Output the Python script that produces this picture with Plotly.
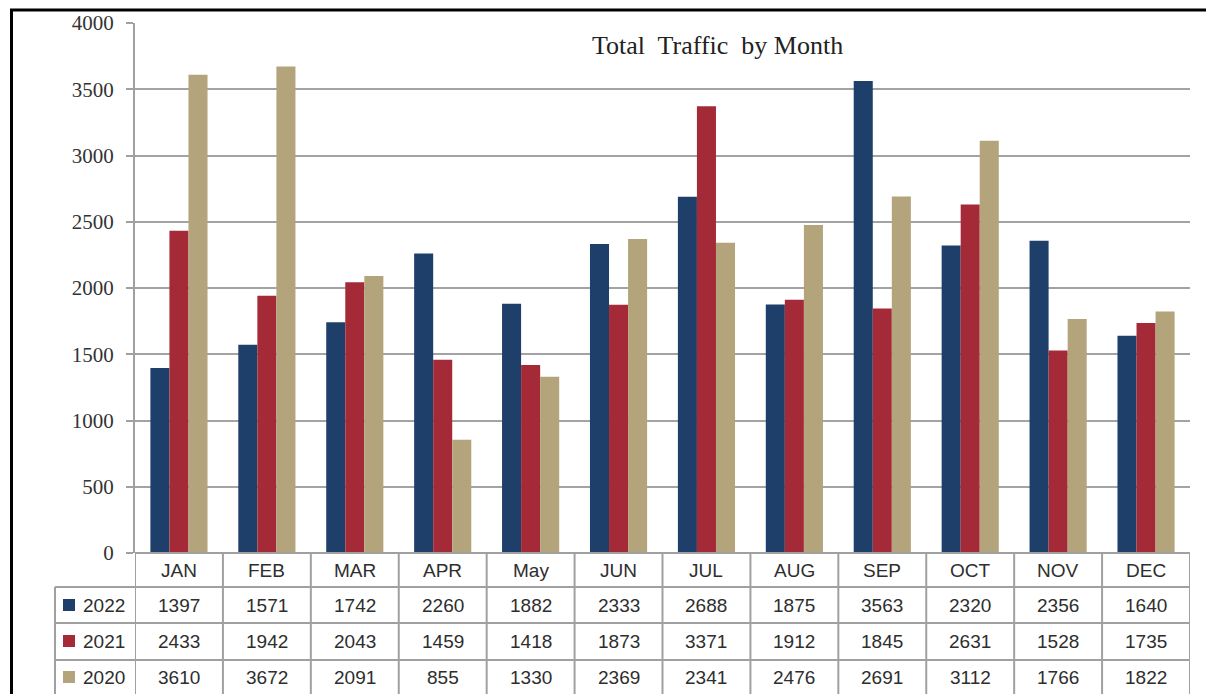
import plotly.graph_objects as go

months = ["JAN", "FEB", "MAR", "APR", "May", "JUN", "JUL", "AUG", "SEP", "OCT", "NOV", "DEC"]
years = ["2022", "2021", "2020"]
v2022 = [1397, 1571, 1742, 2260, 1882, 2333, 2688, 1875, 3563, 2320, 2356, 1640]
v2021 = [2433, 1942, 2043, 1459, 1418, 1873, 3371, 1912, 1845, 2631, 1528, 1735]
v2020 = [3610, 3672, 2091, 855, 1330, 2369, 2341, 2476, 2691, 3112, 1766, 1822]
series = [v2022, v2021, v2020]
colors = ["#1F3F6B", "#A52A38", "#B3A47C"]
yticks = [0, 500, 1000, 1500, 2000, 2500, 3000, 3500, 4000]

# page offset of the figure (default body margin)
OX, OY = 8, 8
W, H = 1214 - OX, 694 - OY
# plot area in page pixels
PL, PR, PT, PB = 135, 1190, 23, 553
L = PL - OX
T = PT - OY
R = W - (PR - OX)
B = H - (PB - OY)
PW = PR - PL
PH = PB - PT

def py(pix):  # page pixel y -> paper y
    return (PB - pix) / PH

def px(pix):  # page pixel x -> paper x
    return (pix - PL) / PW

fig = go.Figure()
for name, vals, col in zip(years, series, colors):
    fig.add_trace(go.Bar(x=months, y=vals, name=name, marker=dict(color=col, line=dict(width=0))))

grid = "#A3A3A3"
tline = "#A0A0A0"
shapes = []
annots = []

row_edges = [553, 587, 623, 660, 700]
row_centers = [570, 605, 641, 677]

shapes.append(dict(type="line", xref="x", yref="paper", x0=-0.5, x1=len(months) - 0.5,
                   y0=py(row_edges[0]), y1=py(row_edges[0]), line=dict(color=tline, width=2)))
for e in row_edges[1:4]:
    shapes.append(dict(type="line", xref="paper", yref="paper", x0=px(55), x1=1,
                       y0=py(e), y1=py(e), line=dict(color=tline, width=2)))
for i in range(len(months) + 1):
    shapes.append(dict(type="line", xref="x", yref="paper", x0=i - 0.5, x1=i - 0.5,
                       y0=py(row_edges[0]), y1=py(row_edges[-1]), line=dict(color=tline, width=2)))
shapes.append(dict(type="line", xref="paper", yref="paper", x0=px(55), x1=px(55),
                   y0=py(row_edges[1]), y1=py(row_edges[-1]), line=dict(color=tline, width=2)))

tfont = dict(family="Liberation Sans, Arial, sans-serif", size=19, color="#2E2E2E")
for m in months:
    annots.append(dict(x=m, xref="x", y=py(row_centers[0]), yref="paper",
                       text=m, showarrow=False, font=tfont, xanchor="center", yanchor="middle"))
for r, (name, vals, col) in enumerate(zip(years, series, colors)):
    ypix = row_centers[r + 1]
    yc = py(ypix)
    for m, v in zip(months, vals):
        annots.append(dict(x=m, xref="x", y=yc, yref="paper", text=str(v), showarrow=False,
                           font=tfont, xanchor="center", yanchor="middle"))
    annots.append(dict(x=px(81), xref="paper", y=yc, yref="paper", text=name, showarrow=False,
                       font=tfont, xanchor="left", yanchor="middle"))
    shapes.append(dict(type="rect", xref="paper", yref="paper", x0=px(63), x1=px(75),
                       y0=py(ypix + 6), y1=py(ypix - 6), fillcolor=col, line=dict(width=0)))

# outer border (top and left)
shapes.append(dict(type="line", xref="paper", yref="paper", x0=px(10), x1=px(1220),
                   y0=py(10), y1=py(10), line=dict(color="#000000", width=3)))
shapes.append(dict(type="line", xref="paper", yref="paper", x0=px(11.5), x1=px(11.5),
                   y0=py(9), y1=py(700), line=dict(color="#000000", width=3)))

annots.append(dict(x=px(717), xref="paper", y=py(45), yref="paper", text="Total  Traffic  by Month",
                   showarrow=False, xanchor="center", yanchor="middle",
                   font=dict(family="Liberation Serif, Times New Roman, serif", size=26, color="#222222")))

fig.update_layout(
    width=W, height=H,
    margin=dict(l=L, r=R, t=T, b=B, autoexpand=False),
    paper_bgcolor="white", plot_bgcolor="white",
    barmode="group", bargap=0.35, bargroupgap=0,
    showlegend=False,
    shapes=shapes, annotations=annots,
    xaxis=dict(showticklabels=False, showgrid=False, zeroline=False, showline=False,
               ticks="", range=[-0.5, len(months) - 0.5]),
    yaxis=dict(range=[0, 4000], tickvals=yticks, ticktext=[str(t) for t in yticks],
               showgrid=True, gridcolor=grid, gridwidth=2, zeroline=False,
               showline=True, linecolor=tline, linewidth=2,
               ticks="outside", ticklen=7, tickcolor=tline, tickwidth=2,
               ticklabelstandoff=8,
               tickfont=dict(family="Liberation Serif, Times New Roman, serif", size=21, color="#333333")),
)

fig.write_html("out.html")
